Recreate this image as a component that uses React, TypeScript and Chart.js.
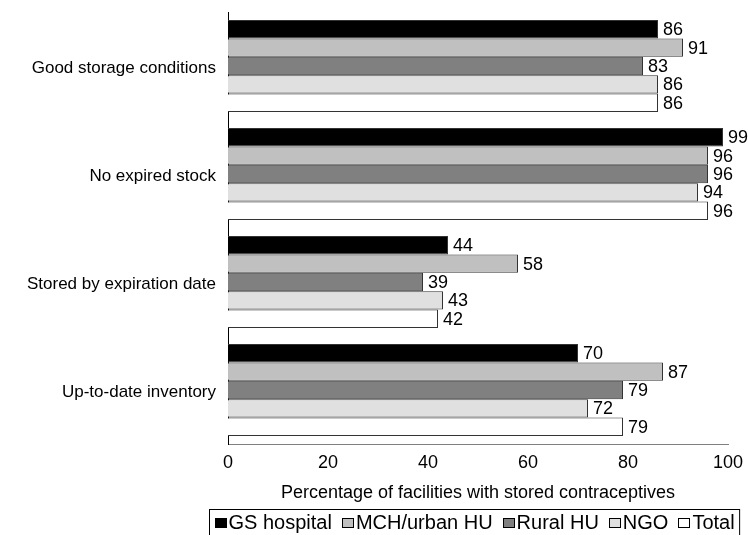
import React, { useEffect, useRef } from "react";
import { Chart, registerables } from "chart.js";

Chart.register(...registerables);

const categories = [
  "Good storage conditions",
  "No expired stock",
  "Stored by expiration date",
  "Up-to-date inventory",
];
const seriesNames = ["GS hospital", "MCH/urban HU", "Rural HU", "NGO", "Total"];
const gsHospital = [86, 99, 44, 70];
const mchUrban = [91, 96, 58, 87];
const ruralHU = [83, 96, 39, 79];
const ngo = [86, 94, 43, 72];
const total = [86, 96, 42, 79];
const xTicks = [0, 20, 40, 60, 80, 100];
const xTitle = "Percentage of facilities with stored contraceptives";

const seriesValues = [gsHospital, mchUrban, ruralHU, ngo, total];
const seriesColors = ["#000000", "#c0c0c0", "#808080", "#e0e0e0", "#ffffff"];

const FONT = "'Liberation Sans', Arial, sans-serif";

const dataLabelPlugin = {
  id: "dataLabels",
  afterDatasetsDraw(chart: any) {
    const ctx = chart.ctx;
    ctx.save();
    ctx.font = `18px ${FONT}`;
    ctx.fillStyle = "#000";
    ctx.textAlign = "left";
    ctx.textBaseline = "middle";
    chart.data.datasets.forEach((ds: any, i: number) => {
      const meta = chart.getDatasetMeta(i);
      meta.data.forEach((el: any, j: number) => {
        ctx.fillText(String(ds.data[j]), el.x + 5, el.y + 1);
      });
    });
    ctx.restore();
  },
};

const boxLegendPlugin = {
  id: "boxLegend",
  afterDraw(chart: any) {
    const ctx = chart.ctx;
    ctx.save();
    ctx.font = `20px ${FONT}`;
    const boxW = 12;
    const boxH = 10;
    const boxGap = 2;
    const itemGap = 10;
    const padX = 5;
    const items = chart.data.datasets.map((ds: any) => ({
      label: ds.label,
      color: ds.backgroundColor,
      w: boxW + boxGap + ctx.measureText(ds.label).width,
    }));
    const inner = items.reduce((s: number, it: any) => s + it.w, 0) + itemGap * (items.length - 1);
    const width = inner + padX * 2;
    const cx = 474;
    const left = Math.round(cx - width / 2) + 0.5;
    const top = 509.5;
    const height = 26;
    ctx.strokeStyle = "#000";
    ctx.lineWidth = 1;
    ctx.strokeRect(left, top, width, height);
    const cy = top + height / 2;
    let x = left + padX;
    ctx.textBaseline = "middle";
    ctx.textAlign = "left";
    items.forEach((it: any) => {
      ctx.fillStyle = it.color;
      ctx.fillRect(Math.round(x), Math.round(cy - boxH / 2), boxW, boxH);
      ctx.strokeStyle = "#000";
      ctx.strokeRect(Math.round(x) + 0.5, Math.round(cy - boxH / 2) + 0.5, boxW - 1, boxH - 1);
      ctx.fillStyle = "#000";
      ctx.fillText(it.label, x + boxW + boxGap, cy + 1);
      x += it.w + itemGap;
    });
    ctx.restore();
  },
};

export default function App() {
  const canvasRef = useRef<HTMLCanvasElement | null>(null);

  useEffect(() => {
    if (!canvasRef.current) return;
    const chart = new Chart(canvasRef.current, {
      type: "bar",
      data: {
        labels: categories,
        datasets: seriesNames.map((name, i) => ({
          label: name,
          data: seriesValues[i],
          backgroundColor: seriesColors[i],
          borderColor: "#333333",
          borderWidth: 1,
          categoryPercentage: 0.852,
          barPercentage: 1,
        })),
      },
      options: {
        indexAxis: "y",
        animation: false,
        responsive: false,
        devicePixelRatio: 1,
        layout: { padding: { top: 12, right: 20, bottom: 27, left: 0 } },
        plugins: {
          legend: { display: false },
          tooltip: { enabled: false },
        },
        scales: {
          x: {
            type: "linear",
            min: 0,
            max: 100,
            afterBuildTicks: (scale: any) => {
              scale.ticks = xTicks.map((v) => ({ value: v }));
            },
            afterFit: (scale: any) => {
              scale.height = 64;
              scale.paddingLeft = 0;
              scale.paddingRight = 0;
            },
            ticks: {
              color: "#000",
              font: { family: FONT, size: 18 },
              padding: 8,
            },
            grid: { display: false, drawTicks: false },
            border: { display: true, color: "#808080", width: 1 },
            title: {
              display: true,
              text: xTitle,
              color: "#000",
              font: { family: FONT, size: 18 },
              padding: { top: 0, bottom: 4 },
            },
          },
          y: {
            type: "category",
            afterFit: (scale: any) => {
              scale.width = 228;
              scale.paddingTop = 0;
              scale.paddingBottom = 0;
            },
            ticks: {
              color: "#000",
              font: { family: FONT, size: 17 },
              padding: 12,
              labelOffset: 2,
            },
            grid: { display: false, drawTicks: false },
            border: { display: true, color: "#000", width: 1 },
          },
        },
      },
      plugins: [dataLabelPlugin, boxLegendPlugin],
    });
    return () => chart.destroy();
  }, []);

  return (
    <div style={{ position: "absolute", left: 0, top: 0, width: 748, height: 535, background: "#fff" }}>
      <canvas ref={canvasRef} width={748} height={535} style={{ display: "block" }} />
    </div>
  );
}
